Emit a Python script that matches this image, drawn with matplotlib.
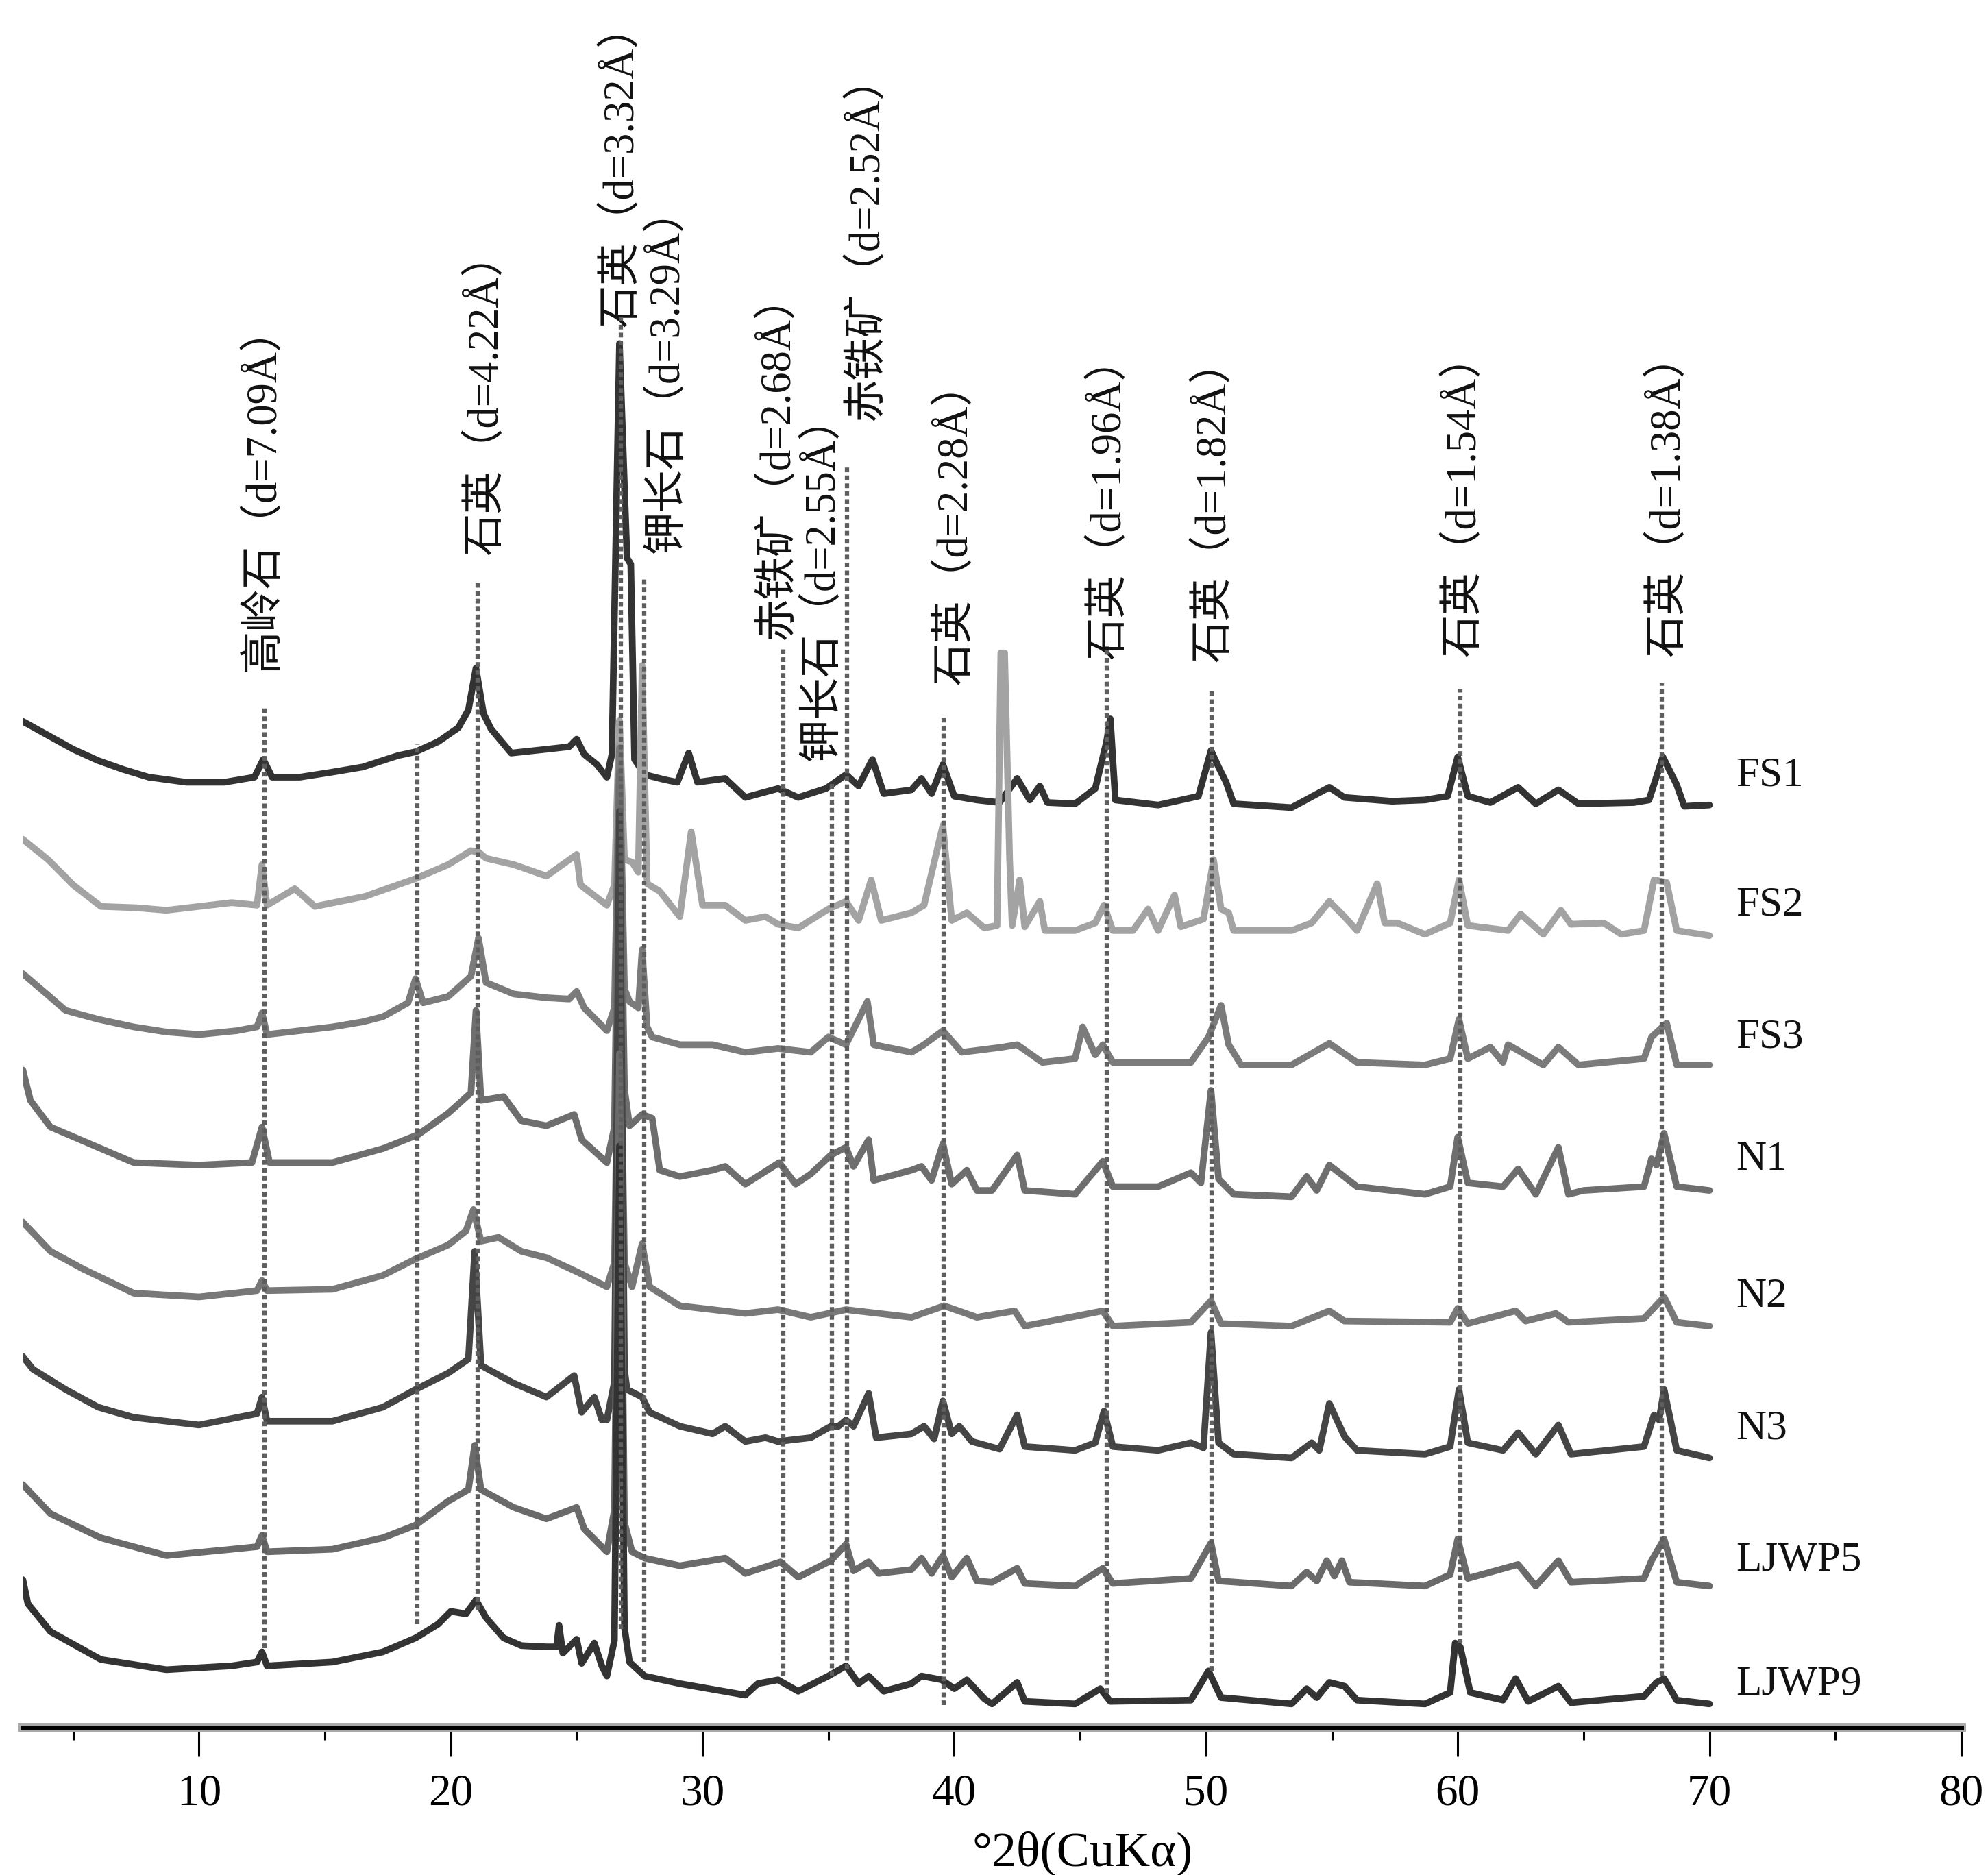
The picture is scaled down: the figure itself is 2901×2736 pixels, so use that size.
import matplotlib.pyplot as plt
from matplotlib.ticker import MultipleLocator

plt.rcParams['font.family'] = ['Liberation Serif', 'Noto Sans CJK SC']

# XRD patterns: 2theta (deg) and intensity above each trace's baseline (a.u.)
fs1_2theta = [3.0, 4.0, 5.0, 6.0, 7.0, 8.0, 9.5, 11.0, 12.2, 12.55, 12.9, 14.0, 15.3, 16.5, 17.9, 18.6, 19.5, 20.3,
              20.7, 21.0, 21.3, 21.6, 22.4, 23.8, 24.7, 25.0, 25.3, 25.8, 26.2, 26.4, 26.7, 26.9, 27.0, 27.15, 27.3,
              27.7, 28.5, 29.0, 29.45, 29.8, 30.9, 31.7, 33.0, 33.8, 34.9, 35.7, 36.2, 36.75, 37.2, 38.3, 38.7, 39.1,
              39.55, 40.0, 40.9, 41.8, 42.5, 43.0, 43.4, 43.7, 44.8, 45.6, 46.05, 46.2, 46.4, 48.1, 49.7, 50.2, 50.5,
              50.8, 51.1, 53.4, 54.9, 55.5, 57.4, 58.7, 59.6, 60.0, 60.4, 61.3, 62.4, 63.1, 64.0, 64.8, 67.0, 67.6,
              68.15, 68.7, 69.0, 70.0]
fs1_counts = [66, 55, 44, 35, 28, 22, 18, 18, 22, 36, 22, 22, 26, 30, 39, 42, 50, 61,
              75, 108, 72, 60, 41, 44, 46, 52, 40, 32, 22, 40, 364, 250, 195, 190, 36,
              24, 20, 18, 41, 18, 21, 6, 13, 6, 13, 24, 15, 36, 9, 12, 21, 9,
              32, 7, 4, 2, 21, 4, 15, 2, 1, 13, 50, 68, 4, 0, 7, 43, 30,
              18, 1, -2, 14, 6, 3, 4, 7, 38, 7, 2, 14, 1, 12, 1, 2, 4,
              38, 16, -1, 0]

fs2_2theta = [3.0, 4.0, 5.0, 6.1, 7.5, 8.7, 10.0, 11.3, 12.3, 12.5, 12.7, 13.8, 14.6, 16.6, 18.6, 19.9, 20.8, 21.1,
              21.4, 22.5, 23.8, 25.0, 25.15, 26.2, 26.5, 26.7, 26.9, 27.2, 27.45, 27.6, 27.8, 28.3, 29.1, 29.55, 30.0,
              30.9, 31.7, 32.5, 33.0, 33.8, 35.0, 35.7, 36.2, 36.7, 37.1, 38.3, 38.8, 39.55, 39.9, 40.5, 41.2, 41.7,
              41.85, 42.0, 42.2, 42.3, 42.6, 42.8, 43.4, 43.6, 44.8, 45.6, 45.95, 46.3, 47.1, 47.7, 48.1, 48.75, 49.0,
              49.9, 50.3, 50.6, 50.9, 51.1, 53.4, 54.2, 54.9, 55.5, 56.0, 56.8, 57.1, 57.6, 58.7, 59.7, 60.05, 60.4,
              62.0, 62.5, 63.4, 64.1, 64.5, 65.8, 66.5, 67.4, 67.8, 68.3, 68.7, 70.0]
fs2_counts = [76, 60, 40, 23, 22, 20, 23, 26, 24, 56, 24, 37, 23, 31, 45, 56, 67, 66,
              61, 56, 47, 64, 40, 24, 40, 170, 60, 58, 50, 213, 41, 35, 15, 82, 24,
              24, 12, 15, 9, 6, 21, 27, 12, 44, 12, 18, 24, 87, 12, 18, 6, 8,
              223, 223, 60, 8, 44, 7, 27, 4, 4, 10, 24, 4, 4, 21, 4, 32, 7,
              13, 60, 21, 18, 4, 4, 10, 27, 15, 4, 41, 10, 10, 1, 10, 44, 8,
              4, 17, 1, 20, 9, 10, 1, 4, 44, 42, 4, 0]

fs3_2theta = [3.0, 4.0, 4.7, 6.0, 7.4, 8.7, 10.0, 11.5, 12.3, 12.5, 12.7, 14.0, 15.3, 16.5, 17.3, 18.3, 18.6, 18.9,
              19.9, 20.8, 21.1, 21.4, 22.5, 23.8, 24.7, 25.0, 25.3, 26.2, 26.5, 26.7, 26.9, 27.1, 27.45, 27.6, 27.8,
              28.0, 29.1, 30.4, 31.7, 33.0, 34.3, 35.0, 35.7, 36.55, 36.8, 38.3, 38.8, 39.55, 40.3, 41.9, 42.5, 43.5,
              44.8, 45.1, 45.6, 45.9, 46.3, 49.4, 50.1, 50.6, 50.9, 51.4, 53.4, 54.9, 56.0, 58.7, 59.7, 60.05, 60.4,
              61.3, 61.8, 62.0, 62.7, 63.4, 64.0, 64.8, 67.4, 67.7, 68.3, 68.7, 70.0]
fs3_counts = [72, 55, 43, 36, 30, 26, 24, 27, 30, 41, 24, 27, 30, 34, 38, 49, 68, 49,
              54, 70, 100, 65, 56, 53, 52, 58, 45, 27, 45, 250, 60, 50, 45, 91, 30,
              22, 16, 16, 10, 13, 10, 22, 16, 50, 16, 10, 16, 27, 10, 14, 16, 2,
              5, 30, 8, 16, 2, 2, 22, 47, 16, 0, 0, 17, 2, 0, 5, 36, 5,
              14, 2, 16, 8, 0, 14, 0, 5, 22, 33, 0, 0]

n1_2theta = [3.0, 3.3, 4.1, 5.4, 7.4, 10.0, 12.1, 12.5, 12.8, 15.3, 17.3, 18.7, 19.9, 20.8, 21.0, 21.2, 22.1, 22.8,
             23.8, 24.9, 25.2, 26.2, 26.5, 26.7, 26.9, 27.1, 27.6, 28.0, 28.3, 29.1, 30.4, 30.9, 31.7, 33.05, 33.7,
             34.3, 35.1, 35.7, 36.0, 36.6, 36.8, 38.3, 38.7, 39.1, 39.55, 39.9, 40.5, 40.9, 41.5, 42.5, 42.8, 44.8,
             45.9, 46.3, 48.1, 49.4, 49.8, 50.2, 50.5, 51.1, 53.4, 54.0, 54.4, 54.9, 56.0, 58.7, 59.7, 60.0, 60.4,
             61.8, 62.4, 63.1, 64.0, 64.4, 65.0, 67.4, 67.7, 67.9, 68.2, 68.7, 70.0]
n1_counts = [95, 71, 50, 39, 22, 20, 22, 50, 22, 22, 33, 44, 61, 77, 142, 71, 74, 55,
             51, 60, 40, 22, 50, 330, 80, 51, 60, 57, 16, 11, 16, 19, 5, 22, 5,
             13, 28, 34, 19, 40, 8, 16, 19, 8, 37, 5, 16, 0, 0, 28, 0, -3,
             23, 3, 3, 14, 6, 79, 9, -3, -5, 11, 0, 20, 3, -3, 3, 42, 6,
             3, 17, -3, 34, -3, 0, 3, 25, 20, 45, 3, 0]

n2_2theta = [3.0, 4.1, 5.4, 7.4, 10.0, 12.3, 12.5, 12.7, 15.3, 17.3, 18.6, 19.9, 20.6, 20.9, 21.2, 21.9, 22.8, 23.8,
             25.1, 26.2, 26.5, 26.7, 26.9, 27.2, 27.6, 27.9, 29.1, 31.7, 33.0, 34.3, 35.7, 38.3, 39.6, 40.9, 42.4,
             42.8, 45.9, 46.3, 49.4, 50.2, 50.6, 53.4, 54.9, 55.5, 59.7, 60.0, 60.4, 62.3, 62.7, 63.9, 64.4, 67.4,
             68.2, 68.7, 70.0]
n2_counts = [82, 59, 45, 26, 23, 28, 36, 28, 29, 40, 53, 64, 75, 92, 67, 70, 59, 54,
             42, 31, 50, 300, 50, 31, 65, 31, 16, 10, 13, 7, 13, 7, 16, 7, 12,
             0, 12, 0, 3, 20, 2, 0, 12, 4, 3, 14, 2, 12, 4, 10, 3, 6,
             23, 3, 0]

n3_2theta = [3.0, 3.4, 4.7, 6.0, 7.4, 10.0, 12.3, 12.5, 12.7, 15.3, 17.3, 18.6, 19.9, 20.7, 20.95, 21.2, 22.5, 23.8,
             24.9, 25.2, 25.7, 26.0, 26.2, 26.5, 26.7, 26.9, 27.0, 27.6, 27.9, 29.1, 30.4, 30.9, 31.7, 32.5, 33.0,
             34.3, 35.1, 35.4, 35.7, 36.0, 36.6, 36.9, 38.3, 38.8, 39.2, 39.55, 39.9, 40.2, 40.7, 41.8, 42.5, 42.8,
             44.8, 45.6, 45.95, 46.3, 48.1, 49.4, 49.9, 50.2, 50.5, 51.1, 53.4, 54.2, 54.5, 54.9, 55.5, 56.0, 58.7,
             59.7, 60.05, 60.4, 61.8, 62.4, 63.1, 64.0, 64.5, 67.4, 67.8, 68.0, 68.2, 68.7, 70.0]
n3_counts = [80, 70, 54, 40, 32, 26, 35, 48, 29, 29, 40, 54, 67, 78, 163, 73, 59, 48,
             65, 36, 48, 30, 30, 60, 510, 70, 54, 48, 36, 25, 19, 25, 13, 16, 13,
             16, 25, 25, 30, 25, 51, 16, 19, 25, 15, 45, 19, 25, 13, 7, 34, 9,
             6, 12, 37, 9, 6, 12, 8, 99, 12, 3, 0, 12, 6, 43, 17, 6, 3,
             9, 54, 12, 6, 20, 3, 26, 3, 9, 34, 30, 54, 6, 0]

ljwp5_2theta = [3.0, 4.1, 6.1, 8.7, 11.3, 12.3, 12.5, 12.7, 15.3, 17.3, 18.6, 19.9, 20.7, 20.95, 21.2, 22.5, 23.8,
                25.0, 25.3, 26.2, 26.5, 26.7, 26.9, 27.2, 27.7, 29.1, 30.9, 31.7, 33.1, 33.8, 35.1, 35.7, 36.0, 36.6,
                37.0, 38.3, 38.7, 39.1, 39.55, 39.9, 40.5, 40.9, 41.5, 42.5, 42.8, 44.8, 45.9, 46.3, 49.4, 50.2, 50.5,
                53.4, 54.0, 54.4, 54.8, 55.1, 55.4, 55.7, 58.7, 59.7, 60.0, 60.4, 62.4, 63.1, 64.0, 64.5, 67.4, 67.7,
                68.2, 68.7, 70.0]
ljwp5_counts = [80, 57, 38, 24, 29, 31, 40, 27, 29, 38, 48, 67, 76, 111, 76, 62, 53,
                62, 45, 27, 60, 420, 50, 27, 22, 16, 22, 10, 19, 7, 20, 33, 12, 19,
                10, 13, 22, 10, 24, 7, 22, 4, 3, 14, 2, 0, 14, 2, 6, 34, 4,
                0, 11, 4, 20, 8, 20, 3, 0, 9, 37, 6, 17, 0, 20, 3, 6, 20,
                37, 3, 0]

ljwp9_2theta = [3.0, 3.2, 4.1, 6.1, 8.7, 11.3, 12.3, 12.5, 12.7, 15.3, 17.3, 18.6, 19.5, 20.0, 20.6, 21.0, 21.4,
                22.1, 22.8, 23.8, 24.2, 24.3, 24.45, 25.0, 25.2, 25.7, 26.0, 26.2, 26.5, 26.7, 26.9, 27.1, 27.7,
                29.1, 31.7, 32.2, 33.0, 33.8, 35.0, 35.7, 36.2, 36.6, 37.2, 38.3, 38.7, 39.5, 40.0, 40.5, 41.2,
                41.5, 42.5, 42.8, 44.8, 45.8, 46.2, 49.4, 50.1, 50.6, 53.4, 54.0, 54.4, 54.9, 55.5, 56.0, 58.7,
                59.7, 59.9, 60.1, 60.5, 61.8, 62.3, 62.8, 64.0, 64.5, 67.4, 67.9, 68.2, 68.7, 70.0]
ljwp9_counts = [98, 79, 57, 35, 27, 30, 33, 41, 30, 33, 41, 52, 63, 73, 71, 82, 68,
                52, 46, 45, 45, 62, 40, 51, 32, 48, 30, 22, 50, 440, 60, 33, 22,
                16, 7, 16, 19, 10, 22, 30, 16, 22, 10, 16, 22, 19, 12, 19, 4,
                0, 17, 2, 0, 12, 2, 3, 26, 5, 0, 12, 5, 17, 14, 3, 0,
                9, 48, 45, 9, 3, 20, 2, 14, 1, 6, 17, 20, 3, 0]

samples = ['FS1', 'FS2', 'FS3', 'N1', 'N2', 'N3', 'LJWP5', 'LJWP9']
patterns = [(fs1_2theta, fs1_counts), (fs2_2theta, fs2_counts), (fs3_2theta, fs3_counts),
            (n1_2theta, n1_counts), (n2_2theta, n2_counts), (n3_2theta, n3_counts),
            (ljwp5_2theta, ljwp5_counts), (ljwp9_2theta, ljwp9_counts)]
offsets = [728, 625, 523, 424, 317, 213, 112, 19]
label_levels = [751, 649, 545, 448, 340, 236, 132, 34]
colors = ['#333333', '#a3a3a3', '#7b7b7b', '#6e6e6e', '#787878', '#454545', '#6a6a6a', '#333333']

# reference lines: position, top, bottom
ref_2theta = [12.6, 18.66, 21.07, 26.76, 27.68, 33.2, 35.15, 35.73, 39.58, 46.07, 50.22, 60.1, 68.1]
ref_top = [806, 776, 903, 1113, 906, 852, 747, 996, 797, 854, 818, 820, 824]
ref_bottom = [63, 82, 93, 78, 52, 41, 41, 47, 18, 28, 45, 67, 41]

# phase annotations
phase_text = ['高岭石（d=7.09Å）', '石英（d=4.22Å）', '石英（d=3.32Å）', '钾长石（d=3.29Å）',
              '赤铁矿（d=2.68Å）', '钾长石（d=2.55Å）', '赤铁矿（d=2.52Å）', '石英（d=2.28Å）',
              '石英（d=1.96Å）', '石英（d=1.82Å）', '石英（d=1.54Å）', '石英（d=1.38Å）']
phase_2theta = [12.55, 21.4, 26.8, 28.6, 33.0, 34.8, 36.55, 40.05, 46.15, 50.33, 60.25, 68.36]
phase_base = [833, 925, 1105, 927, 858, 763, 1031, 823, 843, 841, 845, 845]

fig = plt.figure(figsize=(29.01, 27.36), dpi=100)
ax = fig.add_axes([0.0115, 0.0784, 0.975, 0.9216])
ax.set_xlim(3, 80)
ax.set_ylim(0, 1363)

for (tt, counts), off, col in zip(patterns, offsets, colors):
    ax.plot(tt, [off + c for c in counts], color=col, lw=7,
            solid_joinstyle='round', solid_capstyle='round', zorder=3)

ax.vlines(ref_2theta, ref_bottom, ref_top, colors='#5e5e5e', lw=4.5,
          linestyles=[(0, (1.1, 0.75))], zorder=4)

for s, x, y in zip(phase_text, phase_2theta, phase_base):
    ax.text(x, y, s, rotation=90, ha='center', va='bottom', fontsize=45,
            color='#111111', clip_on=False)

for name, y in zip(samples, label_levels):
    ax.text(71.05, y, name, ha='left', va='center', fontsize=44, color='#111111')

for side in ['left', 'right', 'top']:
    ax.spines[side].set_visible(False)
ax.axhline(0, color='#a8a8a8', lw=10, zorder=2, clip_on=False)
ax.spines['bottom'].set_linewidth(5)
ax.spines['bottom'].set_zorder(5)
ax.set_yticks([])
ax.set_xticks(range(10, 81, 10))
ax.xaxis.set_minor_locator(MultipleLocator(5))
ax.tick_params(axis='x', which='major', direction='out', length=30, width=2.2,
               labelsize=47, pad=18)
ax.tick_params(axis='x', which='minor', direction='out', length=13, width=2.2)

fig.text(0.5446, 0.0115, '°2θ(CuKα)', ha='center', va='center', fontsize=52)

fig.savefig('out.png', dpi=100)
